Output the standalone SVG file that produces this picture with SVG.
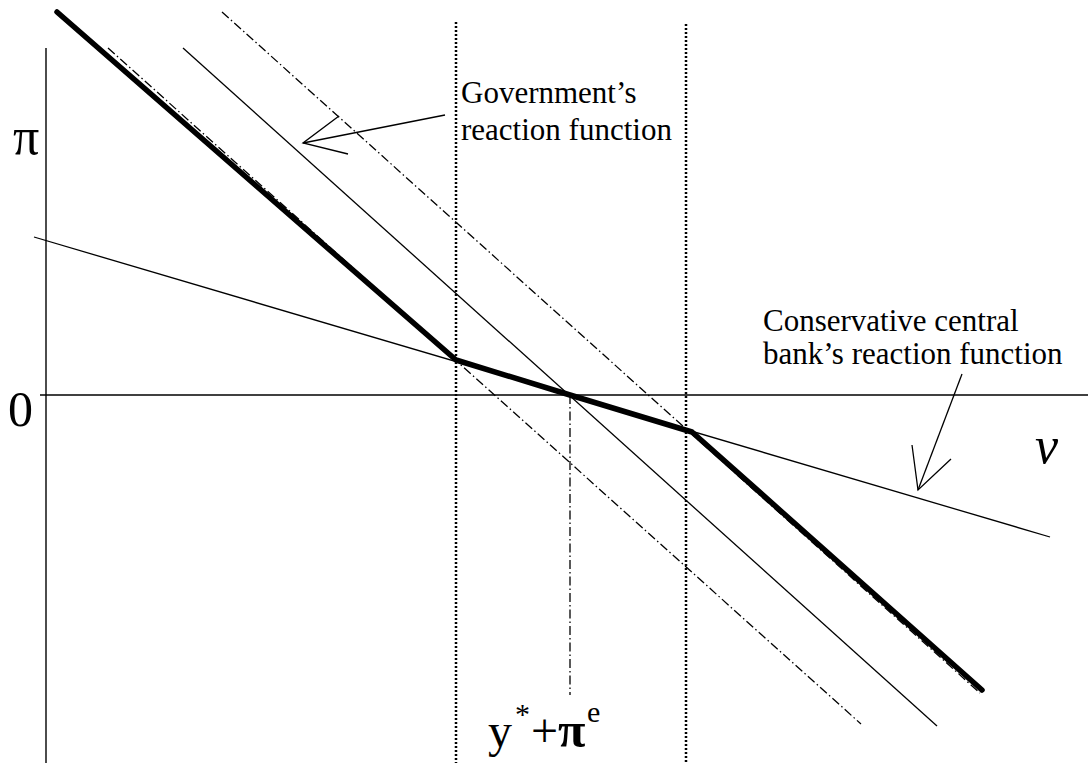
<svg xmlns="http://www.w3.org/2000/svg" width="1088" height="763" viewBox="0 0 1088 763">
<style>
.ax{stroke:#000;stroke-width:1.4;fill:none}
.thin{stroke:#000;stroke-width:1.3;fill:none}
.thick{stroke:#000;stroke-width:5.5;fill:none;stroke-linejoin:round;stroke-linecap:round}
.dot{stroke:#000;stroke-width:2.5;fill:none;stroke-dasharray:2 2}
.dd{stroke:#000;stroke-width:1.3;fill:none;stroke-dasharray:9 3 1.5 3}
text{font-family:'Liberation Serif','Times New Roman',serif;fill:#000}
</style>
<rect width="1088" height="763" fill="#fff"/>
<g id="connectors">
  <line class="ax" x1="46" y1="48" x2="46" y2="763"/>
  <line class="ax" x1="40" y1="395" x2="1088" y2="395"/>
  <line class="dot" x1="456" y1="22" x2="456" y2="763"/>
  <line class="dot" x1="686" y1="24" x2="686" y2="763"/>
  <line class="dd" x1="570" y1="395" x2="570" y2="695"/>
  <line class="dd" x1="222" y1="12" x2="980" y2="693"/>
  <line class="dd" x1="108" y1="48" x2="861" y2="724"/>
  <line class="thin" x1="183" y1="48" x2="937" y2="726"/>
  <line class="thin" x1="34" y1="237" x2="1050" y2="537"/>
  <polyline class="thick" points="57,12 456,360 570,395 692,432 982,690"/>
  <g id="gov-arrow">
    <line class="thin" x1="445" y1="115" x2="303" y2="143"/>
    <polyline class="thin" points="339,116 303,143 348,154"/>
  </g>
  <g id="ccb-arrow">
    <line class="thin" x1="962" y1="374" x2="918" y2="490"/>
    <polyline class="thin" points="912,445 918,490 951,459"/>
  </g>
</g>
<g id="label-pi"><text x="13" y="154" font-size="52">π</text></g>
<g id="label-zero"><text x="8" y="426" font-size="50">0</text></g>
<g id="label-v"><text x="1035" y="463" font-size="52" font-style="italic">v</text></g>
<g id="label-gov">
  <text x="461" y="103" font-size="31">Government’s</text>
  <text x="461" y="140" font-size="31">reaction function</text>
</g>
<g id="label-ccb">
  <text x="763" y="331" font-size="31">Conservative central</text>
  <text x="763" y="364" font-size="31">bank’s reaction function</text>
</g>
<g id="label-ystar">
  <text x="488" y="747" font-size="48">y</text>
  <text x="515" y="724" font-size="30">*</text>
  <text x="531" y="747" font-size="48">+</text>
  <text x="558" y="747" font-size="50" font-weight="bold">π</text>
  <text x="587" y="722" font-size="30">e</text>
</g>
</svg>
